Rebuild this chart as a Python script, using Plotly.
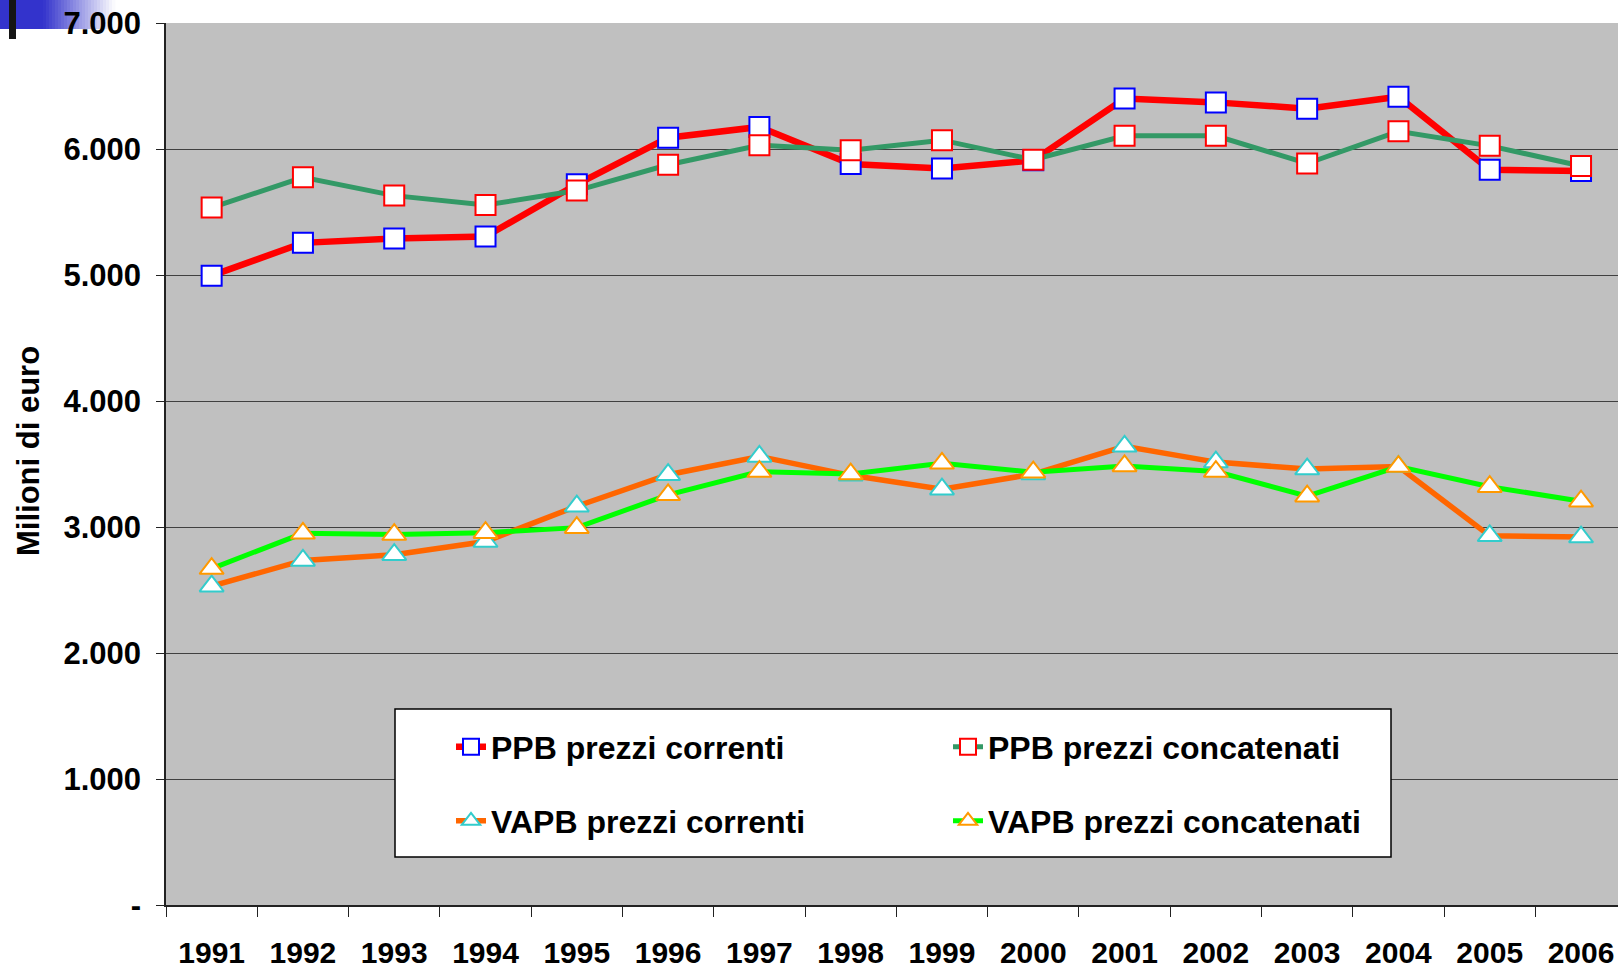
import plotly.graph_objects as go

# ---------------- data ----------------
years = ["1991", "1992", "1993", "1994", "1995", "1996", "1997", "1998",
         "1999", "2000", "2001", "2002", "2003", "2004", "2005", "2006"]

ppb_correnti = [4995, 5255, 5290, 5305, 5720, 6090, 6175, 5880,
                5845, 5910, 6400, 6370, 6320, 6415, 5835, 5825]
ppb_concatenati = [5535, 5775, 5630, 5555, 5670, 5875, 6030, 5990,
                   6070, 5915, 6105, 6105, 5885, 6140, 6025, 5865]
vapb_correnti = [2530, 2735, 2780, 2885, 3165, 3415, 3560, 3410,
                 3300, 3420, 3640, 3515, 3460, 3480, 2930, 2920]
vapb_concatenati = [2670, 2950, 2940, 2955, 2995, 3255, 3440, 3420,
                    3505, 3435, 3485, 3440, 3245, 3480, 3320, 3205]

y_tickvals = [0, 1000, 2000, 3000, 4000, 5000, 6000, 7000]
y_ticktext = ["-", "1.000", "2.000", "3.000", "4.000", "5.000", "6.000", "7.000"]

series_names = ["PPB prezzi correnti", "PPB prezzi concatenati",
                "VAPB prezzi correnti", "VAPB prezzi concatenati"]

# ---------------- layout geometry ----------------
W, H = 1618, 968
ML, MR, MT, MB = 166, 0, 23, 63
PW = W - ML - MR
PH = H - MT - MB


def px_x(px):
    return (px - ML) / PW


def px_y(py):
    return (H - MB - py) / PH


FONT = "Liberation Sans, Arial, Helvetica, sans-serif"

styles = [
    dict(line=dict(color="#ff0000", width=6.5),
         marker=dict(symbol="square", size=20, color="white",
                     line=dict(color="#0000ff", width=2))),
    dict(line=dict(color="#339966", width=5),
         marker=dict(symbol="square", size=20, color="white",
                     line=dict(color="#ff0000", width=2))),
    dict(line=dict(color="#ff6600", width=5.5),
         marker=dict(symbol="triangle-up", size=21, color="white",
                     line=dict(color="#33cccc", width=2))),
    dict(line=dict(color="#00ff00", width=5),
         marker=dict(symbol="triangle-up", size=21, color="white",
                     line=dict(color="#ff9900", width=2))),
]
values = [ppb_correnti, ppb_concatenati, vapb_correnti, vapb_concatenati]
legend_ids = ["legend", "legend2", "legend3", "legend4"]

fig = go.Figure()
for name, vals, st, lg in zip(series_names, values, styles, legend_ids):
    fig.add_trace(go.Scatter(x=years, y=vals, name=name, mode="lines+markers",
                             legend=lg, cliponaxis=False, **st))

# legend positions (left edge / row centre, in px)
leg_pos = {
    "legend": (451, 747),
    "legend2": (948, 747),
    "legend3": (451, 821),
    "legend4": (948, 821),
}
legend_layouts = {}
for lg, (lx, ly) in leg_pos.items():
    legend_layouts[lg] = dict(
        x=px_x(lx), y=px_y(ly), xanchor="left", yanchor="middle",
        bgcolor="rgba(0,0,0,0)", borderwidth=0,
        font=dict(family=FONT, size=32, color="black", weight="bold"),
    )

shapes = []
# legend box
shapes.append(dict(type="rect", xref="paper", yref="paper",
                   x0=px_x(395), x1=px_x(1391), y0=px_y(857), y1=px_y(709),
                   fillcolor="white", line=dict(color="black", width=1.5),
                   layer="above"))
# top-left decoration: blue gradient band + black bar
shapes.append(dict(type="rect", xref="paper", yref="paper",
                   x0=px_x(0), x1=px_x(44), y0=px_y(29), y1=px_y(0),
                   fillcolor="rgb(51,51,204)", line=dict(width=0), layer="below"))
n_steps = 24
x_start, x_end = 43, 115
for i in range(n_steps):
    t = (i + 0.5) / n_steps
    r = int(51 + (255 - 51) * t)
    g = int(51 + (255 - 51) * t)
    b = int(204 + (255 - 204) * t)
    xa = x_start + (x_end - x_start) * i / n_steps
    xb = x_start + (x_end - x_start) * (i + 1) / n_steps + 0.5
    shapes.append(dict(type="rect", xref="paper", yref="paper",
                       x0=px_x(xa), x1=px_x(xb), y0=px_y(29), y1=px_y(0),
                       fillcolor=f"rgb({r},{g},{b})", line=dict(width=0),
                       layer="below"))
shapes.append(dict(type="rect", xref="paper", yref="paper",
                   x0=px_x(9), x1=px_x(16), y0=px_y(39), y1=px_y(0),
                   fillcolor="#151515", line=dict(width=0), layer="below"))

fig.update_layout(
    width=W, height=H,
    margin=dict(l=ML, r=MR, t=MT, b=MB, pad=0, autoexpand=False),
    paper_bgcolor="white",
    plot_bgcolor="#c0c0c0",
    font=dict(family=FONT, color="black"),
    showlegend=True,
    shapes=shapes,
    xaxis=dict(
        type="category", range=[-0.5, 15.405], automargin=False,
        tickson="boundaries", ticks="outside", ticklen=10, tickwidth=1,
        tickcolor="#222222",
        showline=True, linecolor="#222222", linewidth=2,
        showgrid=False, zeroline=False,
        tickfont=dict(family=FONT, size=30, color="black", weight="bold"),
        ticklabelstandoff=20,
    ),
    yaxis=dict(
        range=[0, 7000], tickvals=y_tickvals, ticktext=y_ticktext,
        automargin=False,
        ticks="outside", ticklen=8, tickwidth=1, tickcolor="#222222",
        showline=True, linecolor="#222222", linewidth=1.5,
        showgrid=True, gridcolor="#404040", gridwidth=1, zeroline=False,
        tickfont=dict(family=FONT, size=31, color="black", weight="bold"),
        ticklabelstandoff=9,
    ),
    annotations=[dict(
        text="Milioni di euro", textangle=-90, showarrow=False,
        xref="paper", yref="paper", x=px_x(28), y=px_y(451),
        xanchor="center", yanchor="middle",
        font=dict(family=FONT, size=31, color="black", weight="bold"),
    )],
    **legend_layouts,
)

fig.write_html(
    "out.html",
    config={"displayModeBar": False},
    post_script="document.body.style.margin='0';document.body.style.overflow='hidden';",
)
